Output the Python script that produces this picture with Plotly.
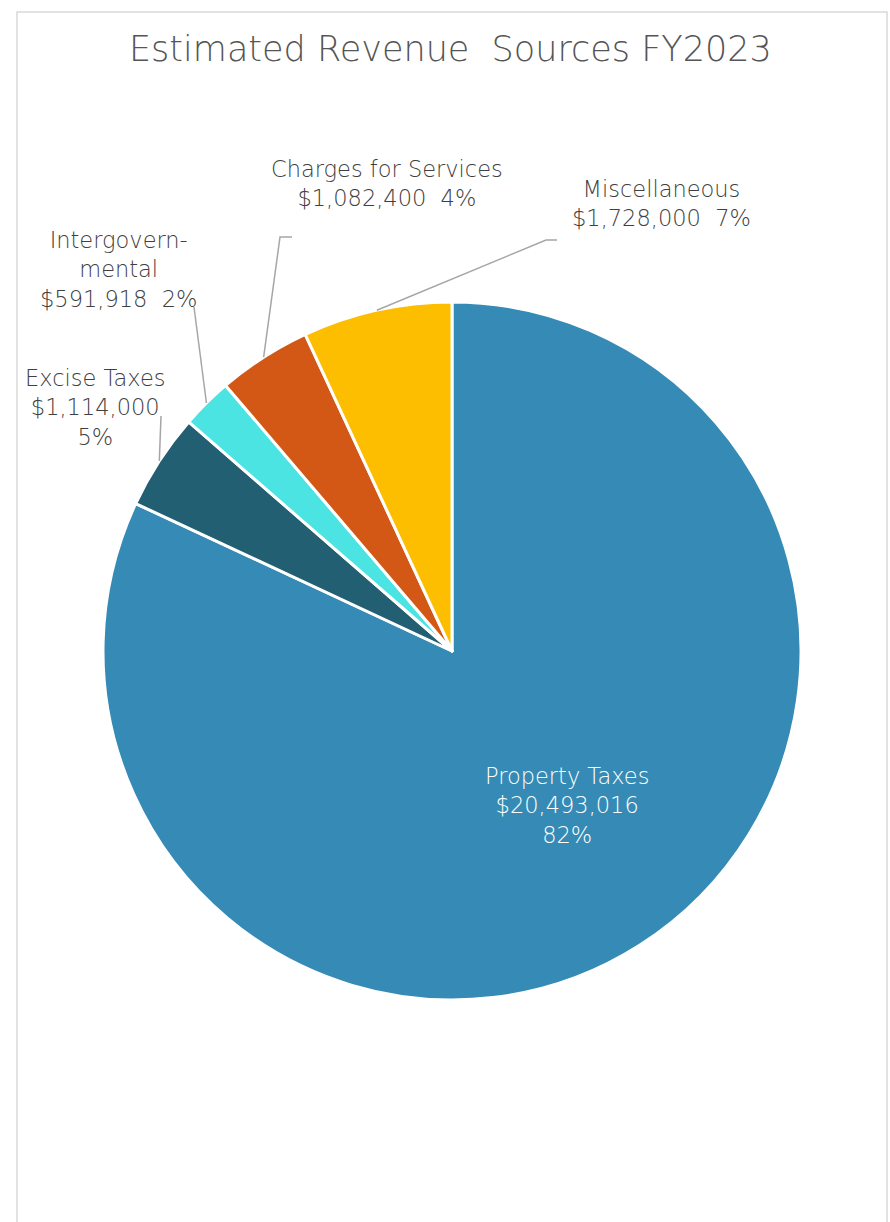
import math
import plotly.graph_objects as go

# Revenue sources (clockwise from 12 o'clock)
sources = ["Property Taxes", "Excise Taxes", "Intergovernmental",
           "Charges for Services", "Miscellaneous"]
amounts = [20493016, 1114000, 591918, 1082400, 1728000]
share_pct = [82, 5, 2, 4, 7]
label_names = ["Property Taxes", "Excise Taxes", "Intergovern-<br>mental",
               "Charges for Services", "Miscellaneous"]
colors = ["#358BB5", "#235F72", "#4CE3E3", "#D35816", "#FDBE00"]

W, H = 890, 1222
FONT = "Century Gothic, DejaVu Sans, sans-serif"
GREY = "#404040"

# Pie placement in pixels
pie_left, pie_right, pie_top, pie_bottom = 103, 801, 302, 1000
cx = (pie_left + pie_right) / 2
cy = (pie_top + pie_bottom) / 2
R = (pie_right - pie_left) / 2


def px(x):
    return x / W


def py(y):
    return 1 - y / H


fig = go.Figure(go.Pie(
    labels=sources,
    values=amounts,
    sort=False,
    direction="clockwise",
    rotation=0,
    marker=dict(colors=colors, line=dict(color="white", width=3)),
    textinfo="none",
    hoverinfo="label+value+percent",
    showlegend=False,
    domain=dict(x=[px(pie_left), px(pie_right)], y=[py(pie_bottom), py(pie_top)]),
))


def money(v):
    return "${:,}".format(v)


# label block centres (pixels) and leader elbow points
label_pos = {
    "Property Taxes": (567, 805),
    "Excise Taxes": (95, 408),
    "Intergovernmental": (118, 269),
    "Charges for Services": (387, 184),
    "Miscellaneous": (661, 203),
}
leader_bends = {
    "Excise Taxes": [(161, 416)],
    "Intergovernmental": [(194, 307)],
    "Charges for Services": [(280, 237), (292, 237)],
    "Miscellaneous": [(546, 240), (557, 240)],
}

total = sum(amounts)
cum = 0
annotations = []
shapes = []
for name, lab, amt, pct in zip(sources, label_names, amounts, share_pct):
    mid_frac = (cum + amt / 2) / total
    cum += amt
    if name in ("Property Taxes", "Excise Taxes"):
        text = f"{lab}<br>{money(amt)}<br>{pct}%"
    else:
        text = f"{lab}<br>{money(amt)}\u00a0\u00a0{pct}%"
    fcolor = "white" if name == "Property Taxes" else GREY
    lx, ly = label_pos[name]
    annotations.append(dict(
        x=px(lx), y=py(ly), xref="paper", yref="paper",
        text=text, showarrow=False, align="center",
        xanchor="center", yanchor="middle",
        font=dict(family=FONT, size=22.5, color=fcolor, weight=300),
    ))
    if name in leader_bends:
        ang = mid_frac * 2 * math.pi
        sx = cx + R * math.sin(ang)
        sy = cy - R * math.cos(ang)
        pts = [(sx, sy)] + leader_bends[name]
        path = "M " + " L ".join(f"{px(x)},{py(y)}" for x, y in pts)
        shapes.append(dict(type="path", xref="paper", yref="paper", path=path,
                           line=dict(color="#A6A6A6", width=1.5)))

# chart title
annotations.append(dict(
    x=px(451), y=py(49), xref="paper", yref="paper",
    text="Estimated Revenue\u00a0\u00a0Sources FY2023", showarrow=False,
    xanchor="center", yanchor="middle",
    font=dict(family=FONT, size=35, color="#555555", weight=300),
))

# chart-area frame
shapes.append(dict(type="rect", xref="paper", yref="paper",
                   x0=px(17), x1=px(887), y0=py(1240), y1=py(12),
                   line=dict(color="#D9D9D9", width=1.5), fillcolor="rgba(0,0,0,0)"))

fig.update_layout(
    width=W, height=H, autosize=False,
    margin=dict(l=0, r=0, t=0, b=0),
    paper_bgcolor="white", plot_bgcolor="white",
    annotations=annotations, shapes=shapes,
)

fig.write_html("out.html")
